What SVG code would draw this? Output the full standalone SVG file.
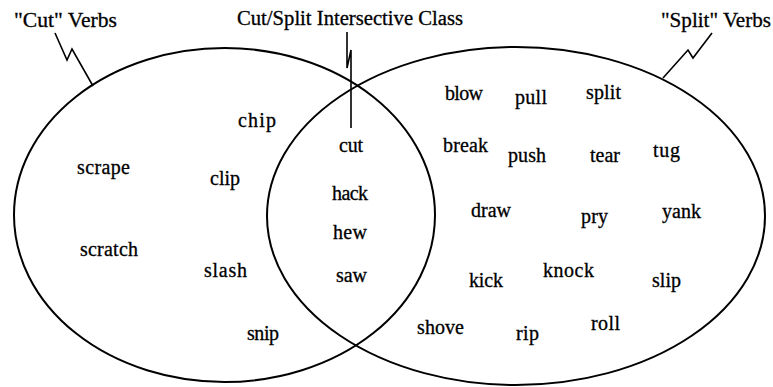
<svg xmlns="http://www.w3.org/2000/svg" width="773" height="387" viewBox="0 0 773 387">
<style>
  .set { fill: none; stroke: #000; stroke-width: 2; }
  .lead { fill: none; stroke: #000; stroke-width: 1.6; stroke-linejoin: miter; }
  .t { font-size: 20px; fill: #000; stroke: #000; stroke-width: 0.3; }
</style>
<rect width="773" height="387" fill="#fff"/>
<g font-family="Liberation Serif, Times New Roman, DejaVu Serif, serif">
<g id="cut-verbs">
  <ellipse class="set" cx="224.5" cy="215" rx="210.5" ry="167"/>
  <text class="t" x="14" y="27" textLength="103" lengthAdjust="spacingAndGlyphs">"Cut" Verbs</text>
</g>
<g id="split-verbs">
  <ellipse class="set" cx="516" cy="216" rx="249" ry="169"/>
  <text class="t" x="661" y="27" textLength="110" lengthAdjust="spacingAndGlyphs">"Split" Verbs</text>
</g>
<g id="intersective-class">
  <text class="t" x="237" y="25" textLength="226" lengthAdjust="spacingAndGlyphs">Cut/Split Intersective Class</text>
</g>
<g id="connectors">
  <polyline class="lead" points="55,33 67,60 72,49 93,86"/>
  <polyline class="lead" points="347,32 347,68 351,50 351,128"/>
  <polyline class="lead" points="712,33 693,58 688,50 663,78"/>
</g>
<g id="words-cut">
  <text class="t" x="238" y="127" textLength="38">chip</text>
  <text class="t" x="77" y="174" textLength="53">scrape</text>
  <text class="t" x="210" y="185" textLength="30">clip</text>
  <text class="t" x="80" y="256" textLength="58">scratch</text>
  <text class="t" x="204" y="277" textLength="43">slash</text>
  <text class="t" x="247" y="340" textLength="32">snip</text>
</g>
<g id="words-intersect">
  <text class="t" x="339" y="152" textLength="24">cut</text>
  <text class="t" x="332" y="200" textLength="36">hack</text>
  <text class="t" x="333" y="239" textLength="34">hew</text>
  <text class="t" x="336" y="282" textLength="31">saw</text>
</g>
<g id="words-split">
  <text class="t" x="445" y="100" textLength="38">blow</text>
  <text class="t" x="515" y="104" textLength="32">pull</text>
  <text class="t" x="586" y="99" textLength="35">split</text>
  <text class="t" x="443" y="152" textLength="45">break</text>
  <text class="t" x="508" y="162" textLength="38">push</text>
  <text class="t" x="590" y="162" textLength="30">tear</text>
  <text class="t" x="653" y="157" textLength="27">tug</text>
  <text class="t" x="471" y="217" textLength="40">draw</text>
  <text class="t" x="581" y="223" textLength="27">pry</text>
  <text class="t" x="662" y="218" textLength="39">yank</text>
  <text class="t" x="469" y="287" textLength="34">kick</text>
  <text class="t" x="543" y="277" textLength="51">knock</text>
  <text class="t" x="652" y="287" textLength="29">slip</text>
  <text class="t" x="417" y="334" textLength="47">shove</text>
  <text class="t" x="516" y="340" textLength="23">rip</text>
  <text class="t" x="591" y="330" textLength="29">roll</text>
</g>
</g>
</svg>
